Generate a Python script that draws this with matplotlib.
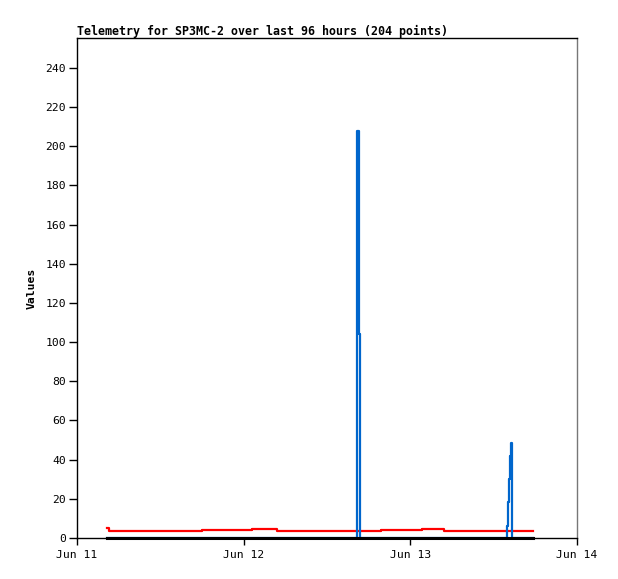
import matplotlib
matplotlib.use("Agg")
import matplotlib.pyplot as plt

# hours since Jun 11 00:00
red_t = [4.3, 4.6, 17.95, 25.2, 28.8, 43.8, 49.7, 52.8, 65.7]
red_v = [5.0, 3.8, 4.3, 4.8, 3.8, 4.3, 4.8, 3.8, 3.8]

black_t = [4.3, 65.7]
black_v = [0.0, 0.0]

blue_t = [4.3, 40.35, 40.6, 40.8, 61.9, 62.05, 62.2, 62.35, 62.5, 62.7, 65.7]
blue_v = [0.0, 208.0, 104.0, 0.0, 6.0, 18.5, 30.0, 42.0, 48.5, 0.0, 0.0]

tick_hours = [0, 24, 48, 72]
tick_labels = ["Jun 11", "Jun 12", "Jun 13", "Jun 14"]

plt.rcParams['font.family'] = ['DejaVu Sans Mono']

fig = plt.figure(figsize=(6.18, 5.79), dpi=100)
ax = fig.add_axes([77/618, 41/579, 500/618, 500/579])

ax.plot(black_t, black_v, color="black", lw=2.2, zorder=5, clip_on=False)
ax.plot(red_t, red_v, color="#ff0000", lw=1.6, drawstyle="steps-post", zorder=3)
ax.plot(blue_t, blue_v, color="#0066cc", lw=1.6, drawstyle="steps-post", zorder=4)

ax.set_xlim(0, 72)
ax.set_ylim(0, 255.3)
ax.set_xticks(tick_hours)
ax.set_xticklabels(tick_labels)
ax.set_yticks(range(0, 241, 20))
ax.tick_params(axis="y", direction="out", length=6, width=1, labelsize=8.2, pad=2)
ax.tick_params(axis="x", direction="out", length=5, width=1, labelsize=8.2, pad=4)

ax.set_ylabel("Values", fontsize=8.2, fontweight="bold", labelpad=6)
ax.set_title("Telemetry for SP3MC-2 over last 96 hours (204 points)",
             loc="left", fontsize=8.35, fontweight="bold", pad=2)

for s in ax.spines.values():
    s.set_linewidth(1)
ax.spines["right"].set_color("#777777")

fig.savefig("out.png", dpi=100)
